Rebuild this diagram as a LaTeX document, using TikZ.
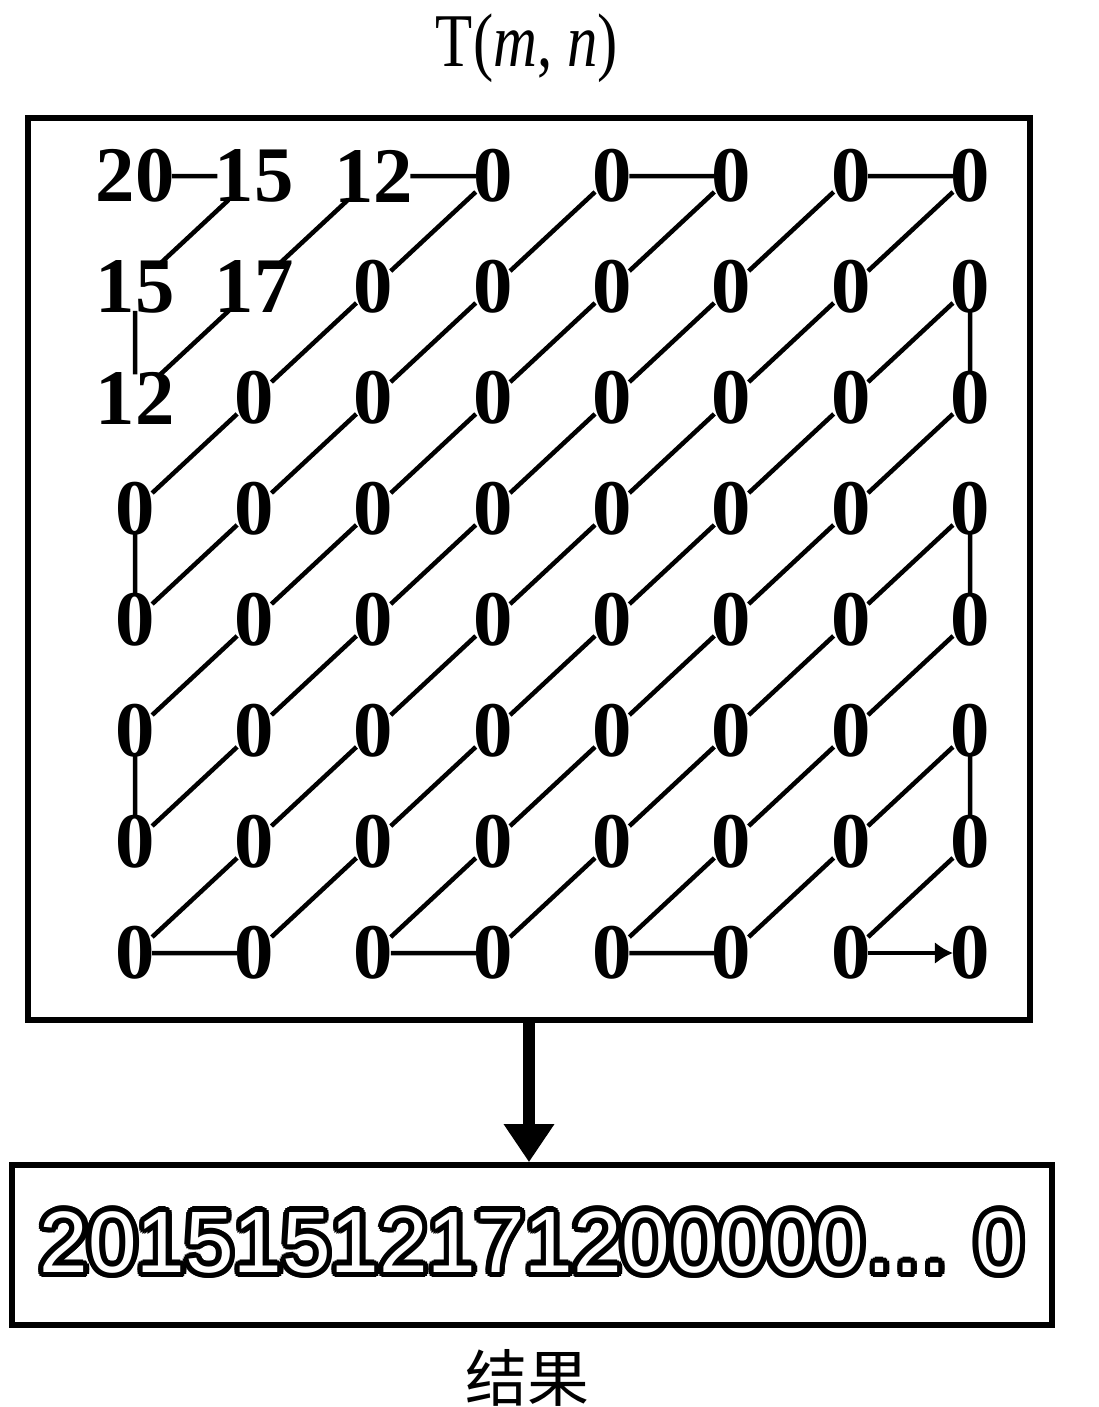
\documentclass[tikz,border=0pt]{standalone}
\usepackage{fontspec}
\setmainfont{Liberation Serif}
\newfontfamily\resfont{Liberation Sans}
\newfontfamily\cjk{Noto Sans CJK SC}
\usepackage{contour}
\contourlength{4pt}
\usetikzlibrary{arrows.meta,positioning}

\begin{document}
\begin{tikzpicture}[
    x=0.025cm, y=-0.025cm,
    cell/.style={inner sep=-2pt, font=\bfseries\fontsize{56}{56}\selectfont},
    scan/.style={line width=3.2pt},
    frame/.style={draw, line width=4.5pt, minimum width=25.05cm, minimum height=22.55cm},
    resbox/.style={draw, line width=4pt, minimum width=26cm, minimum height=4cm, font=\resfont\fontsize{62}{62}\selectfont},
    caption/.style={font=\fontsize{54}{54}\selectfont}
]
\useasboundingbox (0,0) rectangle (1098,1407);

% Title and frame
\node[caption] (title) at (527,48) {\scalebox{0.8}[1]{T(\textit{m}, \textit{n})}};
\node[frame] (tbox) at (529,569) {};

% Matrix T(m,n)
\foreach \vals [count=\r from 0] in {{20,15,12,0,0,0,0,0},{15,17,0,0,0,0,0,0},
    {12,0,0,0,0,0,0,0},{0,0,0,0,0,0,0,0},{0,0,0,0,0,0,0,0},
    {0,0,0,0,0,0,0,0},{0,0,0,0,0,0,0,0},{0,0,0,0,0,0,0,0}}
  \foreach \v [count=\c from 0] in \vals
    \node[cell] (t\r\c) at ({135+119.3*\c},{176+111*\r}) {\v};

% Zigzag scan
\draw[scan] (t00) -- (t01) -- (t10) -- (t20)
  -- (t11) -- (t02) -- (t03)
  -- (t12) -- (t21) -- (t30) -- (t40)
  -- (t31) -- (t22) -- (t13) -- (t04) -- (t05)
  -- (t14) -- (t23) -- (t32) -- (t41) -- (t50) -- (t60)
  -- (t51) -- (t42) -- (t33) -- (t24) -- (t15) -- (t06) -- (t07)
  -- (t16) -- (t25) -- (t34) -- (t43) -- (t52) -- (t61) -- (t70) -- (t71)
  -- (t62) -- (t53) -- (t44) -- (t35) -- (t26) -- (t17) -- (t27)
  -- (t36) -- (t45) -- (t54) -- (t63) -- (t72) -- (t73)
  -- (t64) -- (t55) -- (t46) -- (t37) -- (t47)
  -- (t56) -- (t65) -- (t74) -- (t75)
  -- (t66) -- (t57) -- (t67)
  -- (t76);
\draw[scan, -{Latex[length=0.45cm,width=0.55cm]}] (t76) -- (t77);

% Result
\node[resbox] (res) at (532,1245) {\color{white}\contour{black}{20151512171200000\ldots\ 0}};
\draw[line width=8pt, -{Triangle[length=0.95cm,width=1.2cm]}] (tbox.south) -- (tbox.south |- res.north);
\node[font=\cjk\fontsize{44}{44}\selectfont] (cap) at (527,1378) {结果};

\end{tikzpicture}
\end{document}
